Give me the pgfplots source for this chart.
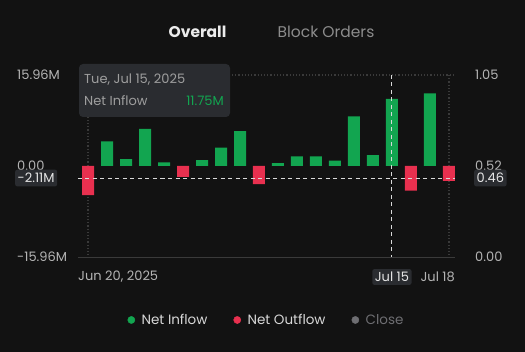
\documentclass[border=0pt]{standalone}
\usepackage{pgfplots}
\pgfplotsset{compat=1.18}
\usepackage{fontspec}
\setmainfont{Poppins}
\definecolor{bgc}{HTML}{121212}
\definecolor{gup}{HTML}{12A550}
\definecolor{rdn}{HTML}{E8304F}
\definecolor{tickc}{HTML}{B4B4B4}
\definecolor{boxc}{HTML}{2A2C30}
\definecolor{gridc}{HTML}{3A3A3A}
\definecolor{legc}{HTML}{D8D8D8}
\definecolor{closec}{HTML}{6E6E72}
\newcommand{\tf}{\fontsize{13}{15}\selectfont}
\begin{document}
\begin{tikzpicture}[x=1pt,y=1pt]
\fill[bgc] (0,0) rectangle (525,352);
\useasboundingbox (0,0) rectangle (525,352);
\node[text=white!92!black, font=\fontsize{15.5}{18}\selectfont\bfseries] at (197.5,320) {Overall};
\node[text=white!55!black, font=\fontsize{15.5}{18}\selectfont] at (326,320) {Block Orders};
\begin{axis}[
  at={(78pt,95pt)}, anchor=south west,
  width=377pt, height=182pt, scale only axis,
  xmin=-0.53, xmax=19.32, ymin=-15.96, ymax=15.96,
  axis line style={draw=none},
  xtick=\empty,
  ytick={-15.96,0,15.96},
  yticklabels={-15.96M,0.00,15.96M},
  major tick length=0pt,
  yticklabel style={anchor=west, inner sep=0pt, xshift=-61pt, text=tickc, font=\tf},
  clip=false,
  ybar, bar width=12pt,
  legend columns=3,
  legend style={at={(axis description cs:0.5,-0.346)}, anchor=center, draw=none, fill=none,
    text=legc, font=\fontsize{13.5}{16}\selectfont,
    /tikz/every even column/.append style={column sep=24pt}},
  legend image code/.code={\fill (0pt,0pt) circle (3.6pt);},
]
% grid
\draw[gridc, dotted, line width=1.2pt] (axis cs:0,15.96) -- (axis cs:19.32,15.96);
\draw[gridc, dotted, line width=1.2pt] (axis cs:0,15.96) -- (axis cs:0,-15.96);
\draw[gridc, dotted, line width=1.2pt] (axis cs:19,15.96) -- (axis cs:19,-15.96);
\draw[gridc, line width=0.8pt] (axis cs:-0.53,-15.96) -- (axis cs:19.32,-15.96);
\addplot[fill=gup, draw=none, bar shift=0pt, forget plot] coordinates {
 (1,4.3) (2,1.2) (3,6.5) (4,0.65) (6,1.05) (7,3.2) (8,6.1)
 (10,0.5) (11,1.7) (12,1.7) (13,0.95) (14,8.7) (15,1.9) (16,11.75) (18,12.75)};
\addplot[fill=rdn, draw=none, bar shift=0pt, forget plot] coordinates {
 (0,-5.1) (5,-1.9) (9,-3.2) (17,-4.3) (19,-2.6)};
\addlegendimage{gup}
\addlegendentry{\hspace{4.5pt}Net Inflow}
\addlegendimage{rdn}
\addlegendentry{\hspace{4.5pt}Net Outflow}
\addlegendimage{closec}
\addlegendentry[text=closec]{\hspace{4.5pt}Close}
% crosshair
\draw[white!85!black, line width=0.9pt, dash pattern=on 4pt off 3.5pt] (axis cs:-0.53,-2.11) -- (axis cs:19.32,-2.11);
\draw[white!85!black, line width=0.9pt, dash pattern=on 4pt off 3.5pt] (axis cs:16,15.96) -- (axis cs:16,-15.96);
\node[fill=boxc, rounded corners=2pt, text=white!90!black, font=\tf, anchor=west, inner xsep=2.5pt, inner ysep=3.5pt] at ([xshift=-63pt]axis cs:-0.53,-2.11) {-2.11M};
% x labels
\node[anchor=west, inner sep=0pt, text=tickc, font=\tf] at ([yshift=-20pt]axis cs:-0.53,-15.96) {Jun 20, 2025};
\node[anchor=east, inner sep=0pt, text=tickc, font=\tf] at ([yshift=-20pt]axis cs:19.32,-15.96) {Jul 18};
\node[fill=boxc, rounded corners=2pt, text=white!90!black, font=\tf, inner xsep=2.5pt, inner ysep=3pt] at ([yshift=-20pt]axis cs:16,-15.96) {Jul 15};
\end{axis}
\begin{axis}[
  at={(78pt,95pt)}, anchor=south west,
  width=377pt, height=182pt, scale only axis,
  xmin=-0.53, xmax=19.32, ymin=0, ymax=1.05,
  axis line style={draw=none},
  xtick=\empty,
  ytick={0,0.525,1.05},
  yticklabels={0.00,0.52,1.05},
  yticklabel pos=right,
  major tick length=0pt,
  yticklabel style={anchor=west, inner sep=0pt, xshift=20pt, text=tickc, font=\tf},
]
\addplot[draw=none, forget plot] coordinates {(0,0.5)};
\end{axis}
\begin{axis}[
  at={(78pt,95pt)}, anchor=south west,
  width=377pt, height=182pt, scale only axis,
  xmin=-0.53, xmax=19.32, ymin=-15.96, ymax=15.96,
  hide axis, clip=false,
]
\node[fill=boxc, rounded corners=2pt, text=white!90!black, font=\tf, anchor=west, inner xsep=2.5pt, inner ysep=3.5pt] at ([xshift=19pt]axis cs:19.32,-2.11) {0.46};
\end{axis}
% tooltip
\fill[boxc, rounded corners=4pt] (79,235) rectangle (230,288);
\node[anchor=west, inner sep=0pt, text=white!62!black, font=\tf] at (84,272) {Tue, Jul 15, 2025};
\node[anchor=west, inner sep=0pt, text=white!62!black, font=\tf] at (84,251) {Net Inflow};
\node[anchor=east, inner sep=0pt, text=gup, font=\tf] at (224,251) {11.75M};
\end{tikzpicture}
\end{document}
